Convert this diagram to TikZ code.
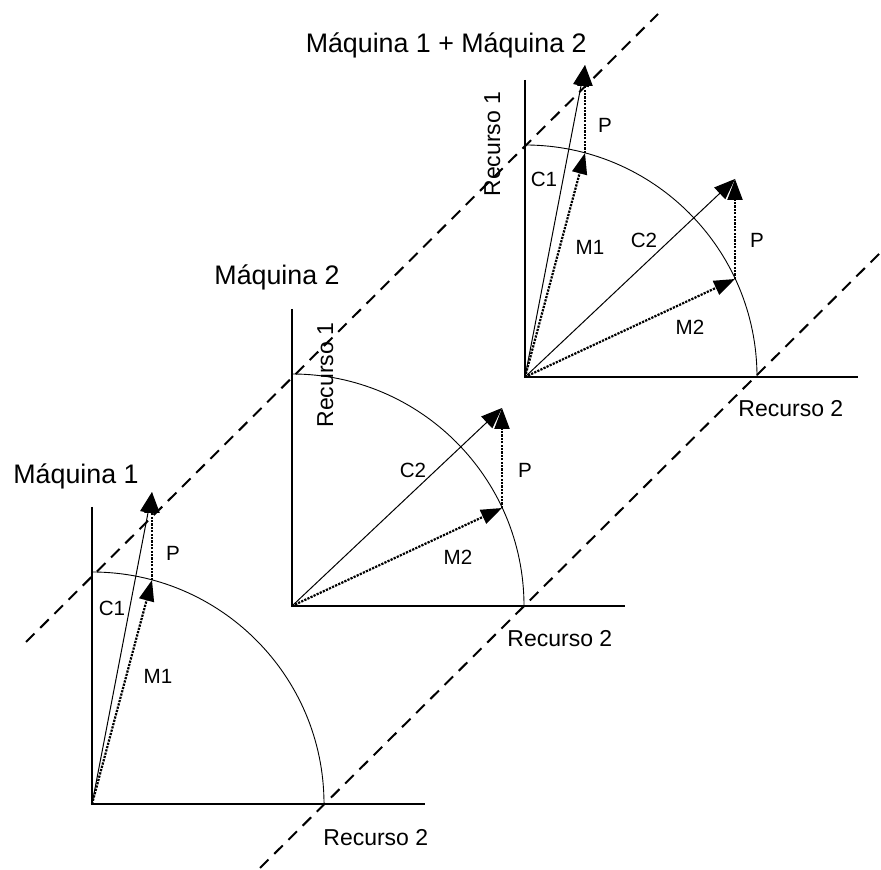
\documentclass[tikz,border=0pt]{standalone}
\usepackage{fontspec}
\setmainfont{Liberation Sans}
\usetikzlibrary{arrows.meta}

\tikzset{
  axisline/.style={line width=0.7pt},
  arcline/.style={line width=0.45pt},
  cvec/.style={line width=0.5pt, -{Triangle[length=10.5pt,width=8pt]}},
  mvec/.style={line width=1.1pt, dash pattern=on 1.1pt off 0.6pt, -{Triangle[length=10.5pt,width=7.5pt]}},
  guide/.style={line width=1pt, dash pattern=on 6pt off 4pt},
  lbl/.style={font=\fontsize{10.3}{12}\selectfont, inner sep=0pt},
  axlbl/.style={font=\fontsize{11.5}{14}\selectfont, inner sep=0pt},
  title/.style={font=\fontsize{13.4}{16}\selectfont, inner sep=0pt}
}

\begin{document}
\begin{tikzpicture}[x=0.5pt, y=0.5pt]
  \useasboundingbox (0,0) rectangle (881,870);

  % dashed guides through the arc ends
  \draw[guide] (26,228) -- (658,856);
  \draw[guide] (260,2) -- (881,618);

  % Maquina 1
  \begin{scope}[shift={(92,66)}]
    \coordinate (A-o) at (0,0);
    \coordinate (A-m1) at (60,224);
    \coordinate (A-c1) at (60,312);
    \draw[axisline] (0,297) -- (A-o) -- (333,0);
    \draw[arcline] (232,0) arc[start angle=0, end angle=90, radius=232];
    \draw[cvec] (A-o) -- (A-c1);
    \draw[mvec] (A-o) -- (A-m1);
    \draw[mvec] (A-m1) -- (A-c1);
    \node[lbl] (A-p) at (81,251) {P};
    \node[lbl] (A-lc1) at (20,196) {C1};
    \node[lbl] (A-lm1) at (66,128) {M1};
    \node[axlbl, rotate=90, anchor=base west] (A-r1) at (-8,-243) {Recurso 1};
    \node[axlbl, anchor=base west] (A-r2) at (231,-42) {Recurso 2};
    \node[title, anchor=base west] (A-t) at (-79,320) {Máquina 1};
  \end{scope}

  % Maquina 2
  \begin{scope}[shift={(292,264)}]
    \coordinate (B-o) at (0,0);
    \coordinate (B-m2) at (210,98);
    \coordinate (B-c2) at (210,198);
    \draw[axisline] (0,297) -- (B-o) -- (333,0);
    \draw[arcline] (232,0) arc[start angle=0, end angle=90, radius=232];
    \draw[cvec] (B-o) -- (B-c2);
    \draw[mvec] (B-o) -- (B-m2);
    \draw[mvec] (B-m2) -- (B-c2);
    \node[lbl] (B-lc2) at (121,136) {C2};
    \node[lbl] (B-p) at (233,136) {P};
    \node[lbl] (B-lm2) at (166,49) {M2};
    \node[axlbl, rotate=90, anchor=base west] (B-r1) at (41,178) {Recurso 1};
    \node[axlbl, anchor=base west] (B-r2) at (215,-41) {Recurso 2};
    \node[title, anchor=base east] (B-t) at (48,321) {Máquina 2};
  \end{scope}

  % Maquina 1 + Maquina 2
  \begin{scope}[shift={(525,493)}]
    \coordinate (C-o) at (0,0);
    \coordinate (C-m1) at (60,224);
    \coordinate (C-c1) at (60,312);
    \coordinate (C-m2) at (210,98);
    \coordinate (C-c2) at (210,198);
    \draw[axisline] (0,297) -- (C-o) -- (333,0);
    \draw[arcline] (232,0) arc[start angle=0, end angle=90, radius=232];
    \draw[cvec] (C-o) -- (C-c1);
    \draw[mvec] (C-o) -- (C-m1);
    \draw[mvec] (C-m1) -- (C-c1);
    \draw[cvec] (C-o) -- (C-c2);
    \draw[mvec] (C-o) -- (C-m2);
    \draw[mvec] (C-m2) -- (C-c2);
    \node[lbl] (C-p1) at (80,252) {P};
    \node[lbl] (C-lc1) at (19,198) {C1};
    \node[lbl] (C-lm1) at (65,130) {M1};
    \node[lbl] (C-lc2) at (119,137) {C2};
    \node[lbl] (C-p2) at (232,137) {P};
    \node[lbl] (C-lm2) at (165,50) {M2};
    \node[axlbl, rotate=90, anchor=base west] (C-r1) at (-25,180) {Recurso 1};
    \node[axlbl, anchor=base west] (C-r2) at (213,-40) {Recurso 2};
    \node[title, anchor=base east] (C-t) at (62,324) {Máquina 1 + Máquina 2};
  \end{scope}
\end{tikzpicture}
\end{document}
